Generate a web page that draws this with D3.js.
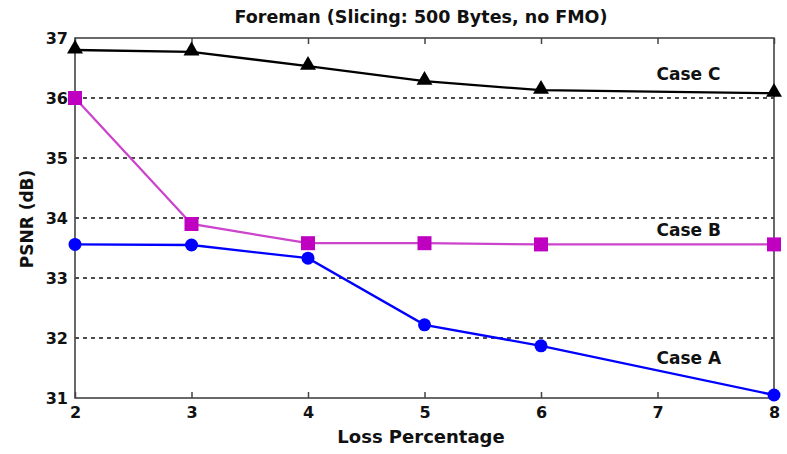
<!DOCTYPE html>
<html>
<head>
<meta charset="utf-8">
<script src="https://cdn.jsdelivr.net/npm/d3@7"></script>
<style>
  body { margin: 0; background: #fff; }
  text { font-family: "DejaVu Sans", sans-serif; font-weight: bold; fill: #111; }
</style>
</head>
<body>
<svg id="chart"></svg>
<script>
const w = 787;
const h = 454;
const margin = {top: 38, right: 13, bottom: 56, left: 75};

const lossPct = [2, 3, 4, 5, 6, 8];
const caseA = [33.56, 33.55, 33.33, 32.22, 31.87, 31.05];
const caseB = [36.0, 33.9, 33.58, 33.58, 33.56, 33.56];
const caseC = [36.8, 36.77, 36.53, 36.28, 36.13, 36.08];
const xTicks = [2, 3, 4, 5, 6, 7, 8];
const yTicks = [31, 32, 33, 34, 35, 36, 37];

var chart = d3.select("#chart")
  .attr("width", w)
  .attr("height", h);

const xScale = d3.scaleLinear().domain([2, 8]).range([margin.left, w - margin.right]);
const yScale = d3.scaleLinear().domain([31, 37]).range([h - margin.bottom, margin.top]);

// dashed grid
chart.append("g")
  .selectAll("line")
  .data(yTicks.slice(1, -1))
  .join("line")
  .attr("x1", margin.left).attr("x2", w - margin.right)
  .attr("y1", d => yScale(d)).attr("y2", d => yScale(d))
  .attr("stroke", "#111").attr("stroke-width", 1.3)
  .attr("stroke-dasharray", "4,4");

// frame
chart.append("rect")
  .attr("x", margin.left).attr("y", margin.top)
  .attr("width", w - margin.left - margin.right)
  .attr("height", h - margin.top - margin.bottom)
  .attr("fill", "none").attr("stroke", "#444").attr("stroke-width", 1.6);

const xAxis = d3.axisBottom(xScale).tickValues(xTicks).tickSize(-6).tickPadding(9).tickFormat(d3.format("d"));
const xAxisTop = d3.axisTop(xScale).tickValues(xTicks).tickSize(-6).tickFormat("");
const yAxis = d3.axisLeft(yScale).tickValues(yTicks).tickSize(0).tickPadding(7).tickFormat(d3.format("d"));

function styleAxis(g) {
  g.select(".domain").remove();
  g.selectAll(".tick line").attr("stroke", "#444").attr("stroke-width", 1.5);
  g.selectAll(".tick text").style("font-size", "16px").style("font-family", "DejaVu Sans, sans-serif")
   .style("font-weight", "bold").attr("fill", "#111");
}

chart.append("g").attr("transform", `translate(0, ${h - margin.bottom})`).call(xAxis).call(styleAxis);
chart.append("g").attr("transform", `translate(0, ${margin.top})`).call(xAxisTop).call(styleAxis);
chart.append("g").attr("transform", `translate(${margin.left}, 0)`).call(yAxis).call(styleAxis);

const line = d3.line().x((d, i) => xScale(lossPct[i])).y(d => yScale(d));

function series(values, color) {
  chart.append("path")
    .datum(values)
    .attr("d", line)
    .attr("fill", "none")
    .attr("stroke", color)
    .attr("stroke-width", 2.3);
}

series(caseC, "#000");
series(caseB, "#cc44cc");
series(caseA, "#0000ff");

// markers
chart.append("g").selectAll("path")
  .data(caseC)
  .join("path")
  .attr("d", d3.symbol(d3.symbolTriangle, 110))
  .attr("transform", (d, i) => `translate(${xScale(lossPct[i])}, ${yScale(d) - 1})`)
  .attr("fill", "#000");

chart.append("g").selectAll("rect")
  .data(caseB)
  .join("rect")
  .attr("x", (d, i) => xScale(lossPct[i]) - 7)
  .attr("y", d => yScale(d) - 7)
  .attr("width", 14).attr("height", 14)
  .attr("fill", "#c000c0");

chart.append("g").selectAll("circle")
  .data(caseA)
  .join("circle")
  .attr("cx", (d, i) => xScale(lossPct[i]))
  .attr("cy", d => yScale(d))
  .attr("r", 6.5)
  .attr("fill", "#0000ff");

// series labels
const labels = [
  {text: "Case C", x: 7, y: 36.4},
  {text: "Case B", x: 7, y: 33.8},
  {text: "Case A", x: 7, y: 31.67}
];
chart.append("g").selectAll("text")
  .data(labels)
  .join("text")
  .attr("x", d => xScale(d.x) - 1)
  .attr("y", d => yScale(d.y))
  .attr("dy", "0.35em")
  .style("font-size", "17px")
  .text(d => d.text);

chart.append("text")
  .attr("x", 421)
  .attr("y", 23)
  .attr("text-anchor", "middle")
  .style("font-size", "17.5px")
  .text("Foreman (Slicing: 500 Bytes, no FMO)");

chart.append("text")
  .attr("x", 421)
  .attr("y", 443)
  .attr("text-anchor", "middle")
  .style("font-size", "18px")
  .text("Loss Percentage");

chart.append("text")
  .attr("transform", `translate(33, 219) rotate(-90)`)
  .attr("text-anchor", "middle")
  .style("font-size", "17px")
  .text("PSNR (dB)");
</script>
</body>
</html>
